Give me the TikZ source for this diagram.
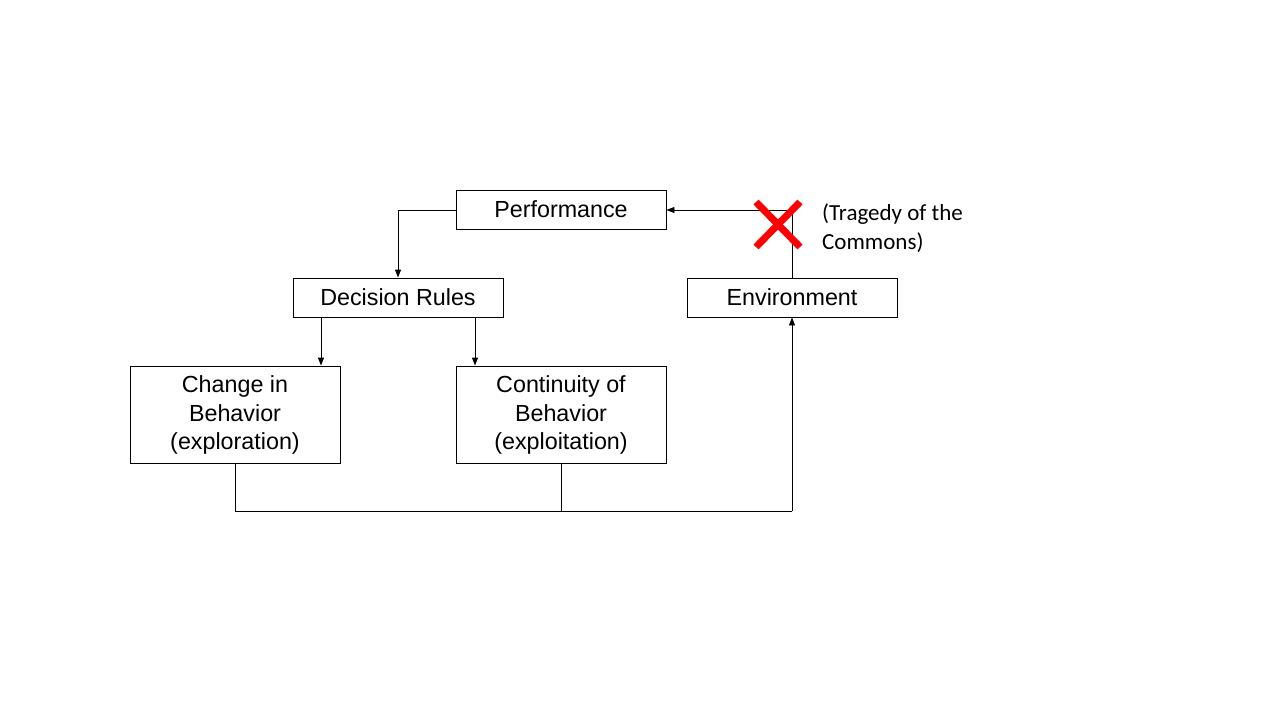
\documentclass[tikz,border=0pt]{standalone}
\usepackage{fontspec}
\setmainfont{Liberation Sans}
\newfontfamily\calib{Carlito}
\usetikzlibrary{arrows.meta}
\begin{document}
\begin{tikzpicture}[x=1pt,y=-1pt,
  box/.style={draw=black,line width=0.9pt,fill=white,inner sep=0pt,
    minimum width=210pt,font=\fontsize{23.3}{28.5}\selectfont,align=center},
  conn/.style={line width=0.9pt,draw=black},
  arr/.style={conn,-{Triangle[length=8pt,width=6pt]}}]
\useasboundingbox (0,0) rectangle (1280,720);
\node[box,minimum height=39pt] (perf) at (561,209.5) {Performance};
\node[box,minimum height=39pt] (dec) at (398,297.5) {Decision Rules};
\node[box,minimum height=39pt] (env) at (792,297.5) {Environment};
\node[box,minimum height=97pt,text depth=3pt] (chg) at (235,414.5) {Change in\\Behavior\\(exploration)};
\node[box,minimum height=97pt,text depth=3pt] (cont) at (561,414.5) {Continuity of\\Behavior\\(exploitation)};
\coordinate (j1) at (235,511);
\coordinate (j2) at (561,511);
\coordinate (j3) at (792,511);
\coordinate (pl) at (398,210);
\coordinate (er) at (792,210);
% Performance -> Decision Rules
\draw[arr] (perf.west |- pl) -- (pl) -- (dec.north);
% Decision Rules -> children
\draw[arr] (321,317) -- (chg.north -| 321,0);
\draw[arr] (475,317) -- (cont.north -| 475,0);
% children -> Environment
\draw[conn] (chg.south) -- (j1) -- (j3);
\draw[conn] (cont.south) -- (j2);
\draw[arr] (j3) -- (env.south);
% Environment -> Performance
\draw[arr] (env.north) -- (er) -- (perf.east |- er);
% red X
\draw[red,line width=7pt] (756,202) -- (800,247);
\draw[red,line width=7pt] (800,202) -- (756,247);
\node[anchor=north west,align=left,inner sep=0pt,font=\calib\fontsize{23}{29}\selectfont] (trag) at (822,203) {(Tragedy of the\\Commons)};
\end{tikzpicture}
\end{document}
